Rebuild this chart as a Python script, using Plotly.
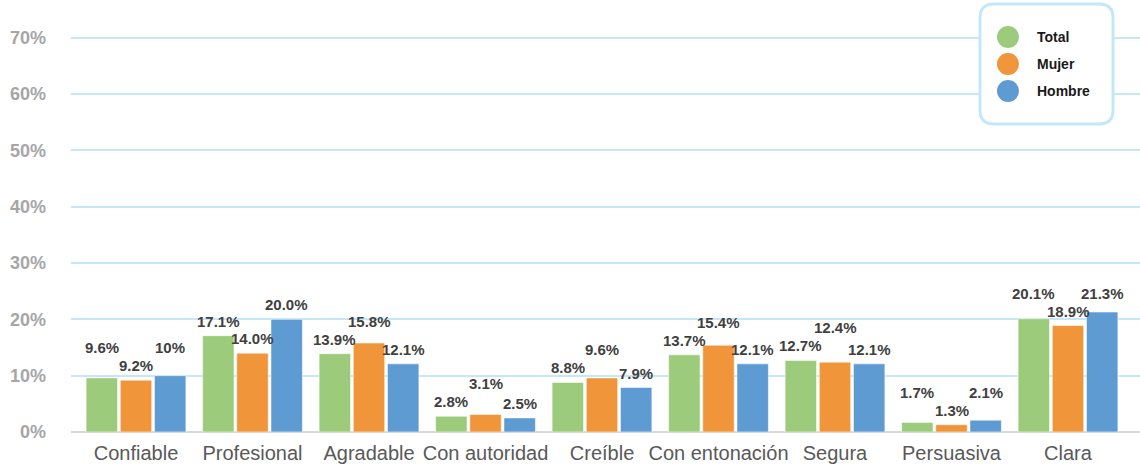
import plotly.graph_objects as go

# Survey: perceived qualities of the voice, by group
categories = ["Confiable", "Profesional", "Agradable", "Con autoridad", "Creíble",
              "Con entonación", "Segura", "Persuasiva", "Clara"]
series_names = ["Total", "Mujer", "Hombre"]

total_labels = ["9.6%", "17.1%", "13.9%", "2.8%", "8.8%", "13.7%", "12.7%", "1.7%", "20.1%"]
mujer_labels = ["9.2%", "14.0%", "15.8%", "3.1%", "9.6%", "15.4%", "12.4%", "1.3%", "18.9%"]
hombre_labels = ["10%", "20.0%", "12.1%", "2.5%", "7.9%", "12.1%", "12.1%", "2.1%", "21.3%"]

tick_vals = [0, 10, 20, 30, 40, 50, 60, 70]
tick_text = ["0%", "10%", "20%", "30%", "40%", "50%", "60%", "70%"]

colors = ["#9CCB7B", "#F0953A", "#5E9BD3"]
FONT = "Liberation Sans, Arial, sans-serif"

W, H = 1140, 466
ML, MR, MT, MB = 71, 0, 36, 34
PW, PH = W - ML - MR, H - MT - MB
X_RANGE = [-0.558, 8.618]
Y_RANGE = [0, 70.3]
BARGAP, GROUPGAP = 0.12, 0.08
LABEL_GAP = 4      # px between bar top and its label
LABEL_H = 17       # px vertical room one label needs


def fx(px):
    return (px - ML) / PW


def fy(py):
    return (H - MB - py) / PH


all_labels = [total_labels, mujer_labels, hombre_labels]
all_values = [[float(s.rstrip("%")) for s in labels] for labels in all_labels]

fig = go.Figure()
for name, values, color in zip(series_names, all_values, colors):
    fig.add_trace(go.Bar(
        name=name,
        x=categories,
        y=values,
        marker=dict(color=color, line=dict(color="rgba(255,255,255,0.55)", width=1)),
        showlegend=False,
        hoverinfo="skip",
    ))

# Value labels above each bar. Labels are wider than a bar, so the middle
# label and its neighbours are staggered vertically when they would collide.
cat_px = PW / (X_RANGE[1] - X_RANGE[0])
slot_px = cat_px * (1 - BARGAP) / 3
px_per_unit = PH / (Y_RANGE[1] - Y_RANGE[0])
annotations = []
for i, cat in enumerate(categories):
    vals = [all_values[k][i] for k in range(3)]
    base = [v * px_per_unit + LABEL_GAP for v in vals]
    pos = list(base)
    # neighbours lower than the middle label push it up
    for n in (0, 2):
        if vals[n] < vals[1] and abs(pos[1] - pos[n]) < LABEL_H:
            pos[1] = max(pos[1], pos[n] + LABEL_H + 1)
    # remaining collisions: whichever label sits higher moves above the other
    for n in (0, 2):
        if abs(pos[1] - pos[n]) < LABEL_H:
            if pos[n] >= pos[1]:
                pos[n] = pos[1] + LABEL_H + 1
            else:
                pos[1] = pos[n] + LABEL_H + 1
    for k in range(3):
        annotations.append(dict(
            x=cat, y=vals[k], xref="x", yref="y", text=all_labels[k][i],
            xshift=(k - 1) * slot_px, yshift=pos[k] - base[k] + LABEL_GAP,
            xanchor="center", yanchor="bottom", showarrow=False,
            font=dict(family=FONT, size=15, color="#404040", weight="bold"),
        ))

# Legend box with rounded corners
x0, x1, y0, y1, r = 980, 1113, 4, 124, 14
pts = [
    ("M", (x0 + r, y0)), ("L", (x1 - r, y0)), ("Q", (x1, y0), (x1, y0 + r)),
    ("L", (x1, y1 - r)), ("Q", (x1, y1), (x1 - r, y1)),
    ("L", (x0 + r, y1)), ("Q", (x0, y1), (x0, y1 - r)),
    ("L", (x0, y0 + r)), ("Q", (x0, y0), (x0 + r, y0)),
]
path = ""
for cmd, *ps in pts:
    path += cmd + " " + " ".join(f"{fx(p[0]):.5f},{fy(p[1]):.5f}" for p in ps) + " "
path += "Z"

shapes = [dict(type="path", path=path, xref="paper", yref="paper",
               line=dict(color="#C3E7F7", width=3), fillcolor="white", layer="above")]
for i, (name, color) in enumerate(zip(series_names, colors)):
    cy = 37 + 27 * i
    shapes.append(dict(type="circle", xref="paper", yref="paper",
                       x0=fx(997), x1=fx(1019), y0=fy(cy + 11), y1=fy(cy - 11),
                       fillcolor=color, line=dict(width=0), layer="above"))
    annotations.append(dict(text=name, x=fx(1035), y=fy(cy), xref="paper", yref="paper",
                            xanchor="left", yanchor="middle", showarrow=False,
                            font=dict(family=FONT, size=14, color="#1a1a1a", weight="bold")))

fig.update_layout(
    width=W, height=H,
    margin=dict(l=ML, r=MR, t=MT, b=MB),
    paper_bgcolor="white", plot_bgcolor="white",
    barmode="group", bargap=BARGAP, bargroupgap=GROUPGAP,
    shapes=shapes, annotations=annotations,
    xaxis=dict(
        type="category", range=X_RANGE,
        showgrid=False, zeroline=False, showline=False, ticks="",
        tickfont=dict(family=FONT, size=20, color="#595959"),
        ticklabelstandoff=7,
    ),
    yaxis=dict(
        range=Y_RANGE, tickvals=tick_vals, ticktext=tick_text,
        showgrid=True, gridcolor="#C6E7F7", gridwidth=2,
        zeroline=True, zerolinecolor="#D9D9D9", zerolinewidth=2,
        showline=False, ticks="",
        tickfont=dict(family=FONT, size=18, color="#A6A6A6", weight="bold"),
        ticklabelstandoff=24,
    ),
)

fig.write_html("out.html")
